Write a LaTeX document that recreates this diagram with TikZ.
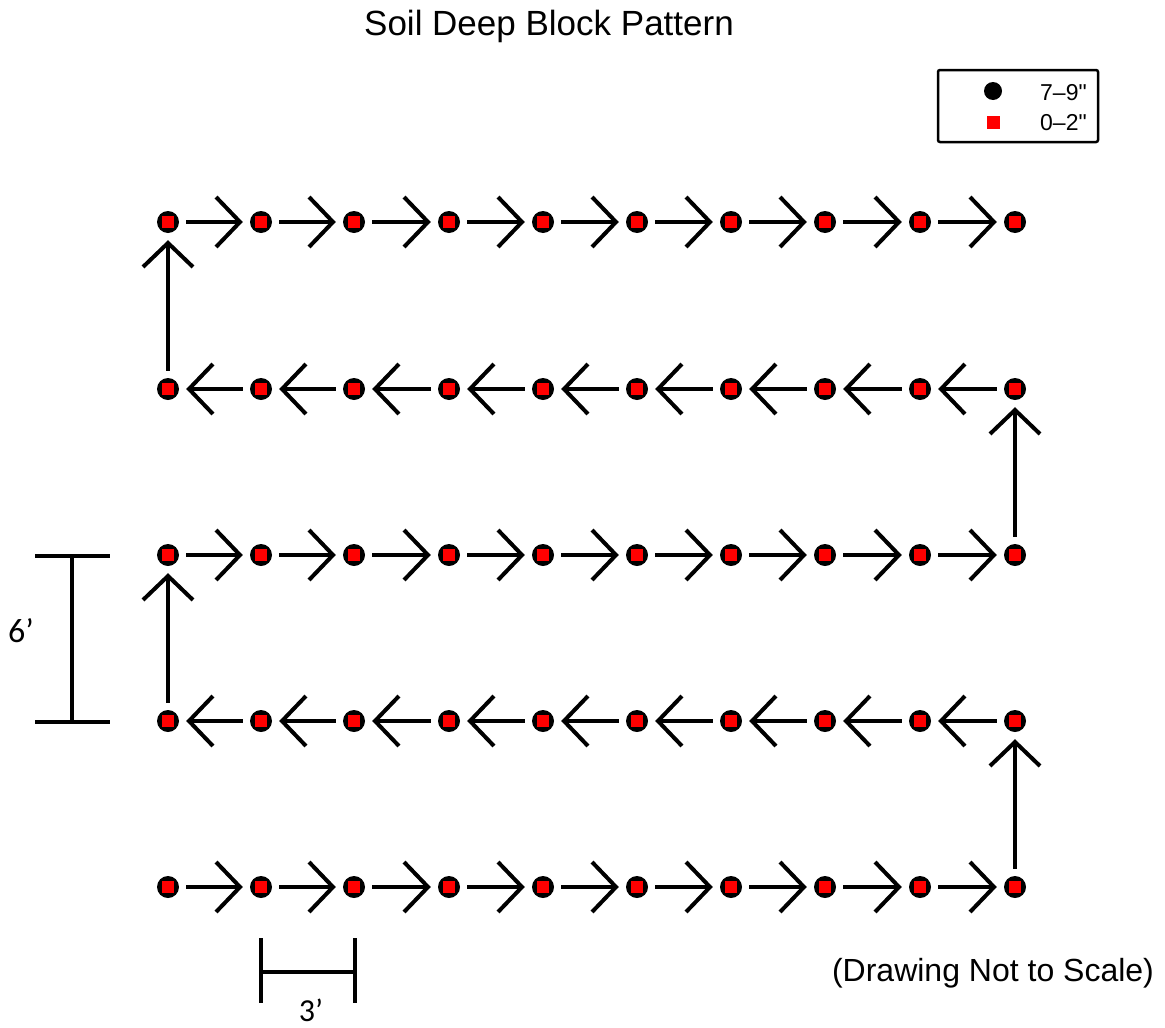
\documentclass[tikz,border=0pt]{standalone}
\usepackage{fontspec}
\setmainfont{Liberation Sans}
\newfontfamily\legendfont[Ligatures=TeXOff]{Liberation Sans}
\newfontfamily\calib{Carlito}
\usetikzlibrary{arrows.meta}
\begin{document}
\begin{tikzpicture}[x=1pt,y=-1pt,
  spot/.style={circle,fill=black,minimum size=22pt,inner sep=0pt,
    path picture={\fill[red] ([shift={(-6pt,-6pt)}]path picture bounding box.center) rectangle ([shift={(6pt,6pt)}]path picture bounding box.center);}},
  arr/.style={line width=4pt,-{Straight Barb[length=24pt,width=50pt,line width=4pt]},shorten <=7pt,shorten >=7pt},
  bar/.style={line width=4pt},
  lbl/.style={inner sep=0pt,anchor=base}]
\useasboundingbox (0,0) rectangle (1165,1028);
% title
\node[lbl] (title) at (549,35) {\fontsize{35}{40}\selectfont Soil Deep Block Pattern};
% legend
\node[draw,line width=2.5pt,rounded corners=2pt,minimum width=160pt,minimum height=72pt,inner sep=0pt] (legend) at (1018,106) {};
\node[circle,fill=black,minimum size=18pt,inner sep=0pt] (lgdot) at (993,91) {};
\node[fill=red,minimum size=13pt,inner sep=0pt] (lgsq) at (993,122) {};
\node[lbl,anchor=base west] (lgt1) at (1040,100) {\legendfont\fontsize{23}{28}\selectfont 7–9"};
\node[lbl,anchor=base west] (lgt2) at (1040,130) {\legendfont\fontsize{23}{28}\selectfont 0–2"};
% grid of sample points
\foreach \r/\y in {0/222,1/389,2/555,3/721,4/887}
  \foreach \c/\x in {0/168,1/261,2/354,3/449,4/543,5/637,6/731,7/825,8/920,9/1015}
    \node[spot] (p\r\c) at (\x,\y) {};
% horizontal arrows
\foreach \r in {0,2,4}
  \foreach \a/\b in {0/1,1/2,2/3,3/4,4/5,5/6,6/7,7/8,8/9}
    \draw[arr] (p\r\a) -- (p\r\b);
\foreach \r in {1,3}
  \foreach \a/\b in {0/1,1/2,2/3,3/4,4/5,5/6,6/7,7/8,8/9}
    \draw[arr] (p\r\b) -- (p\r\a);
% vertical arrows
\draw[arr] (p49) -- (p39);
\draw[arr] (p30) -- (p20);
\draw[arr] (p29) -- (p19);
\draw[arr] (p10) -- (p00);
% 6' dimension
\draw[bar] (35,556) -- (110,556);
\draw[bar] (35,722) -- (110,722);
\draw[bar] (72,556) -- (72,722);
\node[lbl] (six) at (21,642) {\calib\fontsize{34}{40}\selectfont 6’};
% 3' dimension
\draw[bar] (261,938) -- (261,1003);
\draw[bar] (355,938) -- (355,1003);
\draw[bar] (261,972) -- (355,972);
\node[lbl] (three) at (311,1021) {\calib\fontsize{32}{38}\selectfont 3’};
% note
\node[lbl] (note) at (993,981) {\fontsize{32}{38}\selectfont (Drawing Not to Scale)};
\end{tikzpicture}
\end{document}
